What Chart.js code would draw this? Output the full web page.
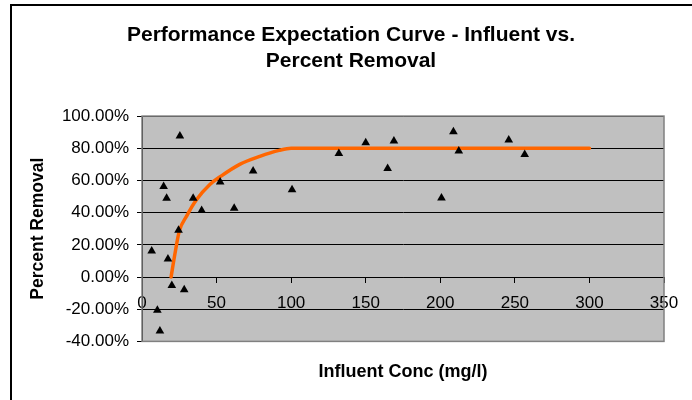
<!DOCTYPE html>
<html>
<head>
<meta charset="utf-8">
<script src="https://cdn.jsdelivr.net/npm/chart.js@4/dist/chart.umd.min.js"></script>
<style>
  body { margin: 0; background: #fff; }
  #wrap { width: 692px; height: 400px; position: relative; }
</style>
</head>
<body>
<div id="wrap"><canvas id="perf-chart"></canvas></div>
<script>
// Số liệu đo (mg/l, % khử)
const influentConc = [6.5, 10.3, 12, 14.5, 16.5, 17.4, 20, 24.5, 25.4, 28.3, 34.3, 40, 52.4, 61.8, 74.5,
    100.6, 132, 150, 164.7, 168.9, 200.8, 208.8, 212.4, 245.9, 256.6];
const percentRemoval = [16.1, -20.7, -33.5, 56.3, 48.9, 11.2, -5.2, 29, 87.6, -7.9, 48.9, 41.4, 59, 42.7, 65.8,
    54.2, 76.8, 83.4, 67.5, 84.5, 49.1, 90.2, 78.3, 85.1, 76.2];

// Đường cong kỳ vọng
const curveConc = [19.5, 22, 25, 30, 36.5, 45.5, 53, 65.5, 79, 92, 100, 200, 300];
const curveRemoval = [0, 14, 28.5, 38, 48, 57.5, 62.7, 70, 75, 78.7, 80, 80, 80];

const xMin = 0, xMax = 350, xStep = 50;
const yMin = -40, yMax = 100, yStep = 20;

Chart.defaults.font.family = 'Arial, "Liberation Sans", sans-serif';
Chart.defaults.color = '#000';

const scatterPoints = influentConc.map((x, i) => ({ x: x, y: percentRemoval[i] }));
const curvePoints = curveConc.map((x, i) => ({ x: x, y: curveRemoval[i] }));

// Nền xám vùng vẽ + khung ngoài
const plotBackground = {
    id: 'plotBackground',
    beforeDraw(chart) {
        const { ctx, chartArea: a } = chart;
        ctx.save();
        ctx.strokeStyle = '#000';
        ctx.lineWidth = 2;
        ctx.beginPath();
        ctx.moveTo(11, 400);
        ctx.lineTo(11, 5);
        ctx.lineTo(692, 5);
        ctx.stroke();
        ctx.fillStyle = '#c0c0c0';
        ctx.fillRect(a.left, a.top, a.right - a.left, a.bottom - a.top);
        ctx.restore();
    },
    afterDatasetsDraw(chart) {
        const { ctx, chartArea: a } = chart;
        ctx.save();
        ctx.strokeStyle = '#808080';
        ctx.lineWidth = 1.5;
        ctx.strokeRect(a.left, a.top, a.right - a.left, a.bottom - a.top);
        ctx.restore();
    }
};

new Chart(document.getElementById('perf-chart'), {
    type: 'scatter',
    data: {
        datasets: [
            {
                label: 'Measured',
                data: scatterPoints,
                pointStyle: 'triangle',
                pointRadius: 5,
                backgroundColor: '#000',
                borderColor: '#000',
                borderWidth: 0,
                order: 1
            },
            {
                label: 'Expected',
                data: curvePoints,
                showLine: true,
                pointRadius: 0,
                borderColor: '#ff6600',
                borderWidth: 3.5,
                borderCapStyle: 'round',
                cubicInterpolationMode: 'monotone',
                order: 2
            }
        ]
    },
    options: {
        responsive: true,
        maintainAspectRatio: false,
        animation: false,
        layout: { padding: { left: 10, right: 0, top: 0, bottom: 0 } },
        plugins: {
            legend: { display: false },
            tooltip: { enabled: false },
            title: {
                display: true,
                text: ['Performance Expectation Curve - Influent vs.', 'Percent Removal'],
                font: { size: 21, weight: 'bold', lineHeight: 1.24 },
                color: '#000',
                padding: { top: 22, bottom: 42 }
            },
            subtitle: {
                display: true,
                position: 'bottom',
                fullSize: false,
                text: 'Influent Conc (mg/l)',
                font: { size: 18, weight: 'bold', lineHeight: 1.2 },
                color: '#000',
                padding: { top: 20, bottom: 17 }
            }
        },
        scales: {
            x: {
                type: 'linear',
                position: { y: 0 },
                min: xMin,
                max: xMax,
                ticks: { stepSize: xStep, font: { size: 17 }, padding: 11, maxRotation: 0 },
                grid: { drawOnChartArea: false, tickLength: 5, color: '#000' },
                border: { color: '#000', width: 1 }
            },
            y: {
                min: yMin,
                max: yMax,
                ticks: {
                    stepSize: yStep,
                    font: { size: 17 },
                    padding: 8,
                    callback: v => v.toFixed(2) + '%'
                },
                grid: { color: '#000', lineWidth: 1, tickLength: 5 },
                border: { color: '#000', width: 1 },
                title: {
                    display: true,
                    text: 'Percent Removal',
                    font: { size: 17.5, weight: 'bold', lineHeight: 1.2 },
                    padding: { top: 17.5, bottom: 0 }
                },
                afterFit(scale) { scale.width = 132; }
            },
            // trục phụ bên phải, chỉ để chừa khoảng trống
            yRight: {
                position: 'right',
                min: yMin,
                max: yMax,
                ticks: { display: false },
                grid: { display: false },
                border: { display: false },
                afterFit(scale) { scale.width = 28; }
            }
        }
    },
    plugins: [plotBackground]
});
</script>
</body>
</html>
